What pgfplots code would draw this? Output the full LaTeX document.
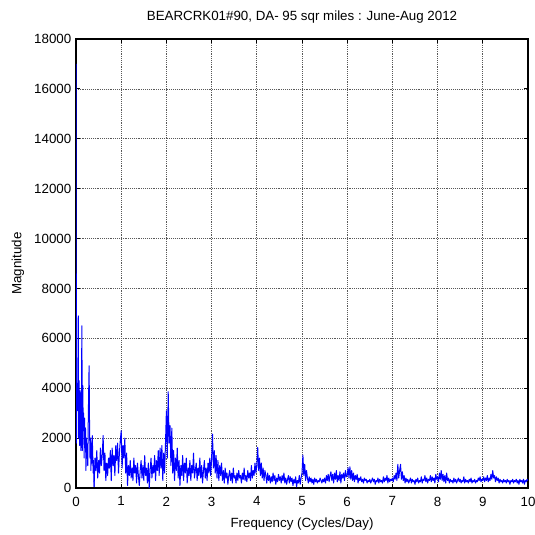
\documentclass[border=0pt]{standalone}
\usepackage{pgfplots}
\pgfplotsset{compat=1.18}
\usepackage{fontspec}
\setmainfont{Liberation Sans}
\usetikzlibrary{calc}
\begin{document}
\begin{tikzpicture}
\begin{axis}[
  scale only axis,
  width=339pt, height=336.75pt,
  xmin=0, xmax=10, ymin=0, ymax=18000,
  xtick={0,1,...,10},
  ytick={0,2000,...,18000},
  scaled y ticks=false,
  /pgf/number format/assume math mode=true,
  /pgf/number format/1000 sep={},
  tick align=inside,
  tickpos=both,
  major tick length=3pt,
  tick style={black, line width=0.6pt},
  axis line style={black, line width=0.8pt},
  grid=major,
  major grid style={black!65, densely dotted, line width=0.5pt},
  xticklabel style={yshift=-3pt},
  title={BEARCRK01\#90, DA- 95 sqr miles : June-Aug 2012},
  title style={at={(axis description cs:0.5,1.023)}, anchor=base},
  xlabel={Frequency (Cycles/Day)},
  xlabel style={at={(axis description cs:0.5,-0.087)}, anchor=base},
  ylabel={Magnitude},
  ylabel style={at={(axis description cs:-0.1283,0.5)}, anchor=center},
]
\addplot[blue, line width=0.75pt, line join=round] coordinates {
(0.00,17000) (0.01,1800) (0.02,4200) (0.03,3100) (0.04,4000) (0.05,6900)
(0.06,2000) (0.07,4300) (0.08,1700) (0.09,3900) (0.10,2600) (0.11,1500)
(0.12,3300) (0.13,6500) (0.14,1500) (0.15,4100) (0.16,2300) (0.17,3000)
(0.18,1200) (0.19,2800) (0.20,1800) (0.21,2400) (0.22,700) (0.23,2000)
(0.24,1200) (0.25,1600) (0.26,900) (0.27,2500) (0.28,3800) (0.29,4900)
(0.30,2400) (0.31,1200) (0.32,2000) (0.33,700) (0.34,1800) (0.35,1000)
(0.36,2100) (0.37,1300) (0.38,600) (0.39,1100) (0.40,50)
};
\addplot[blue, line width=0.75pt, line join=round] table[row sep=\\, header=false, x expr=0.4+0.02*\coordindex, y index=0] {
50\\ 1200\\ 700\\ 1500\\ 400\\ 1100\\ 600\\ 1600\\ 900\\ 1300\\
2100\\ 700\\ 1400\\ 300\\ 1000\\ 500\\ 1200\\ 800\\ 1500\\ 300\\
1600\\ 900\\ 1300\\ 500\\ 1700\\ 1100\\ 1800\\ 600\\ 1400\\ 1900\\
2300\\ 800\\ 1700\\ 1200\\ 2000\\ 600\\ 1400\\ 100\\ 900\\ 500\\
1100\\ 400\\ 800\\ 300\\ 1200\\ 600\\ 900\\ 200\\ 1000\\ 500\\
100\\ 700\\ 1100\\ 400\\ 900\\ 300\\ 1300\\ 500\\ 800\\ 200\\
1000\\ 0\\ 700\\ 1200\\ 400\\ 900\\ 600\\ 1300\\ 300\\ 1100\\
700\\ 1500\\ 500\\ 1600\\ 800\\ 1700\\ 300\\ 1400\\ 600\\ 1800\\
3100\\ 1200\\ 3860\\ 1800\\ 2500\\ 900\\ 2400\\ 600\\ 1500\\ 300\\
1200\\ 700\\ 1600\\ 400\\ 1100\\ 100\\ 900\\ 500\\ 1300\\ 300\\
1000\\ 600\\ 1200\\ 200\\ 800\\ 500\\ 1100\\ 300\\ 900\\ 600\\
1400\\ 400\\ 700\\ 1000\\ 300\\ 800\\ 500\\ 1200\\ 400\\ 900\\
200\\ 700\\ 1100\\ 400\\ 800\\ 300\\ 1000\\ 600\\ 1200\\ 500\\
1200\\ 2160\\ 800\\ 1500\\ 600\\ 1300\\ 400\\ 1100\\ 300\\ 900\\
500\\ 1000\\ 300\\ 700\\ 200\\ 800\\ 400\\ 600\\ 150\\ 500\\
700\\ 300\\ 600\\ 200\\ 800\\ 400\\ 500\\ 200\\ 600\\ 300\\
700\\ 400\\ 500\\ 200\\ 600\\ 350\\ 800\\ 300\\ 500\\ 250\\
700\\ 400\\ 600\\ 300\\ 900\\ 400\\ 700\\ 500\\ 1000\\ 600\\
900\\ 1630\\ 700\\ 1200\\ 500\\ 1000\\ 400\\ 800\\ 300\\ 700\\
500\\ 200\\ 600\\ 300\\ 500\\ 200\\ 450\\ 250\\ 600\\ 300\\
500\\ 150\\ 400\\ 250\\ 550\\ 300\\ 450\\ 200\\ 500\\ 300\\
600\\ 200\\ 400\\ 150\\ 350\\ 500\\ 200\\ 450\\ 250\\ 400\\
100\\ 350\\ 200\\ 450\\ 50\\ 300\\ 200\\ 500\\ 150\\ 400\\
600\\ 1320\\ 500\\ 950\\ 300\\ 700\\ 400\\ 200\\ 450\\ 250\\
400\\ 200\\ 350\\ 150\\ 400\\ 250\\ 350\\ 200\\ 300\\ 250\\
400\\ 300\\ 200\\ 350\\ 250\\ 400\\ 200\\ 500\\ 300\\ 550\\
250\\ 500\\ 650\\ 300\\ 550\\ 200\\ 600\\ 350\\ 700\\ 250\\
500\\ 300\\ 650\\ 200\\ 550\\ 400\\ 600\\ 300\\ 700\\ 450\\
500\\ 815\\ 400\\ 850\\ 350\\ 700\\ 300\\ 600\\ 250\\ 500\\
350\\ 550\\ 200\\ 400\\ 300\\ 450\\ 250\\ 350\\ 200\\ 400\\
300\\ 350\\ 200\\ 300\\ 250\\ 350\\ 200\\ 300\\ 400\\ 250\\
350\\ 150\\ 300\\ 250\\ 400\\ 200\\ 350\\ 250\\ 300\\ 200\\
450\\ 250\\ 400\\ 300\\ 500\\ 200\\ 400\\ 250\\ 350\\ 300\\
400\\ 250\\ 500\\ 350\\ 600\\ 300\\ 950\\ 400\\ 700\\ 950\\
350\\ 650\\ 300\\ 500\\ 200\\ 400\\ 250\\ 350\\ 200\\ 300\\
400\\ 200\\ 350\\ 250\\ 300\\ 150\\ 350\\ 250\\ 400\\ 200\\
300\\ 250\\ 450\\ 200\\ 350\\ 300\\ 500\\ 250\\ 400\\ 200\\
350\\ 300\\ 500\\ 250\\ 450\\ 300\\ 400\\ 200\\ 550\\ 350\\
450\\ 250\\ 600\\ 350\\ 700\\ 300\\ 550\\ 250\\ 500\\ 200\\
600\\ 300\\ 400\\ 200\\ 350\\ 250\\ 300\\ 200\\ 400\\ 250\\
350\\ 200\\ 300\\ 400\\ 250\\ 350\\ 200\\ 300\\ 250\\ 450\\
200\\ 350\\ 250\\ 300\\ 200\\ 350\\ 250\\ 400\\ 200\\ 300\\
250\\ 350\\ 200\\ 300\\ 250\\ 400\\ 300\\ 450\\ 250\\ 350\\
300\\ 450\\ 250\\ 400\\ 300\\ 500\\ 250\\ 400\\ 300\\ 550\\
350\\ 700\\ 400\\ 500\\ 250\\ 450\\ 300\\ 400\\ 200\\ 350\\
250\\ 300\\ 200\\ 350\\ 250\\ 300\\ 200\\ 350\\ 250\\ 300\\
150\\ 300\\ 250\\ 350\\ 200\\ 300\\ 250\\ 350\\ 200\\ 300\\
150\\ 350\\ 250\\ 300\\ 200\\ 350\\ 150\\ 300\\ 250\\ 350\\
300\\
};
\end{axis}
\pgfresetboundingbox
\path ($(current axis.south west)+(-57pt,-35.25pt)$) rectangle ($(current axis.north east)+(5.25pt,29.25pt)$);
\end{tikzpicture}
\end{document}
